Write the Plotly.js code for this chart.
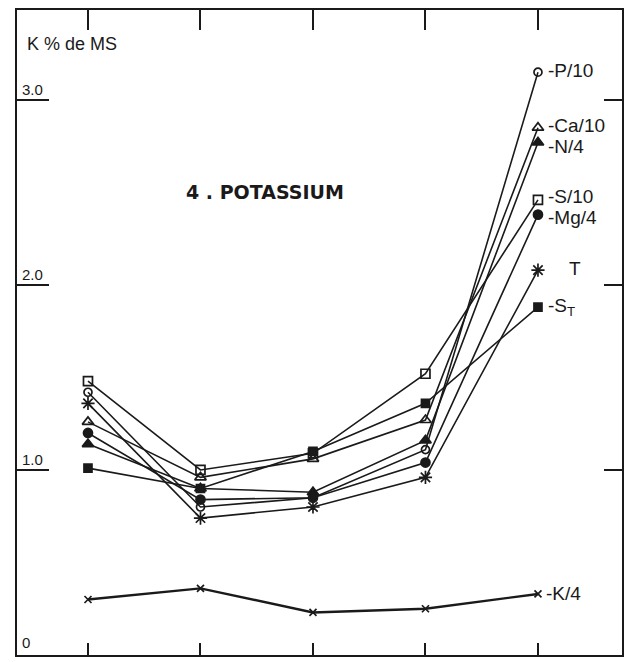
<!DOCTYPE html>
<html><head><meta charset="utf-8">
<script src="https://cdn.plot.ly/plotly-3.0.1.min.js"></script>
<style>html,body{margin:0;padding:0;background:#fff;}#chart{width:626px;height:662px;}</style>
</head><body><div id="chart"></div>
<script>
const cats = [1, 2, 3, 4, 5];
const S10  = [1.48, 1.00, 1.09, 1.52, 2.46];
const P10  = [1.42, 0.80, 0.85, 1.11, 3.15];
const T    = [1.36, 0.74, 0.80, 0.96, 2.08];
const Ca10 = [1.26, 0.96, 1.06, 1.27, 2.85];
const Mg4  = [1.20, 0.84, 0.85, 1.04, 2.38];
const N4   = [1.14, 0.90, 0.88, 1.16, 2.77];
const ST   = [1.01, 0.90, 1.10, 1.36, 1.88];
const K4   = [0.30, 0.36, 0.23, 0.25, 0.33];
const seriesLabels = ['-P/10', '-Ca/10', '-N/4', '-S/10', '-Mg/4', 'T', '-S<sub>T</sub>', '-K/4'];
const yTickVals = [0, 1, 2, 3];
const yTickText = ['0', '1.0', '2.0', '3.0'];

const ink = '#1a1a1a';
const series = [
  {y: P10, sym: 'circle-open', size: 8, lbl: seriesLabels[0], shift: 8, ys: 2},
  {y: Ca10, sym: 'triangle-up-open', size: 10, lbl: seriesLabels[1], shift: 8, ys: 2},
  {y: N4, sym: 'triangle-up', size: 10, lbl: seriesLabels[2], shift: 8, ys: -4},
  {y: S10, sym: 'square-open', size: 9, lbl: seriesLabels[3], shift: 8, ys: 3},
  {y: Mg4, sym: 'circle', size: 9, lbl: seriesLabels[4], shift: 8, ys: -3},
  {y: T, sym: 'asterisk-open', size: 11, lbl: seriesLabels[5], shift: 29, ys: 2},
  {y: ST, sym: 'square', size: 8, lbl: seriesLabels[6], shift: 8, ys: 0},
  {y: K4, sym: 'x-thin-open', size: 7, lbl: seriesLabels[7], shift: 6, ys: 0, lw: 2.4}
];

const traces = series.map(s => ({
  x: cats, y: s.y, type: 'scatter', mode: 'lines+markers',
  line: {color: ink, width: s.lw || 1.6},
  marker: {symbol: s.sym, size: s.size, color: ink, line: {color: ink, width: 1.7}},
  showlegend: false, hoverinfo: 'skip'
}));
traces.push({x: [cats[0]], y: [0], xaxis: 'x2', yaxis: 'y2', mode: 'markers', marker: {opacity: 0}, showlegend: false, hoverinfo: 'skip'});

const annotations = series.map(s => ({
  x: cats[cats.length - 1], y: s.y[s.y.length - 1], xref: 'x', yref: 'y',
  text: s.lbl, showarrow: false, xanchor: 'left', yanchor: 'middle', xshift: s.shift, yshift: s.ys,
  font: {family: 'Liberation Sans, Arial, sans-serif', size: 19, color: ink}
}));
yTickVals.forEach((v, i) => {
  annotations.push({
    x: 0, xref: 'paper', y: v, yref: 'y', text: yTickText[i], showarrow: false,
    xanchor: 'left', yanchor: 'bottom', xshift: 3, yshift: v === 0 ? 2 : 0,
    font: {family: 'Liberation Sans, Arial, sans-serif', size: 15, color: ink}
  });
});
annotations.push({
  x: 0, xref: 'paper', y: 3.30, yref: 'y', text: 'K % de MS', showarrow: false,
  xanchor: 'left', yanchor: 'middle', xshift: 8,
  font: {family: 'Liberation Sans, Arial, sans-serif', size: 18, color: ink}
});
annotations.push({
  x: 2.57, xref: 'x', y: 2.50, yref: 'y', text: '<b>4 . POTASSIUM</b>', showarrow: false,
  xanchor: 'center', yanchor: 'middle',
  font: {family: 'DejaVu Sans, sans-serif', size: 19, color: ink}
});

const xr = [0.369, 5.747], yr = [0, 3.486];
const layout = {
  width: 626, height: 662,
  margin: {l: 17, r: 4, t: 10, b: 7},
  paper_bgcolor: '#fff', plot_bgcolor: '#fff',
  xaxis: {range: xr, tickvals: cats, showticklabels: false, ticks: 'inside', ticklen: 12, tickwidth: 2, tickcolor: ink,
          showline: true, linecolor: ink, linewidth: 2, showgrid: false, zeroline: false, fixedrange: true},
  xaxis2: {range: xr, overlaying: 'x', side: 'top', tickvals: cats, showticklabels: false, ticks: 'inside', ticklen: 20, tickwidth: 2, tickcolor: ink,
          showline: true, linecolor: ink, linewidth: 2, showgrid: false, zeroline: false},
  yaxis: {range: yr, tickvals: [1, 2, 3], showticklabels: false, ticks: 'inside', ticklen: 32, tickwidth: 1.5, tickcolor: ink,
          showline: true, linecolor: ink, linewidth: 2, showgrid: false, zeroline: false, fixedrange: true},
  yaxis2: {range: yr, overlaying: 'y', side: 'right', tickvals: [1, 2, 3], showticklabels: false, ticks: 'inside', ticklen: 18, tickwidth: 2, tickcolor: ink,
          showline: true, linecolor: ink, linewidth: 2, showgrid: false, zeroline: false},
  annotations: annotations,
  showlegend: false
};
Plotly.newPlot('chart', traces, layout, {staticPlot: true, displayModeBar: false});
</script></body></html>
